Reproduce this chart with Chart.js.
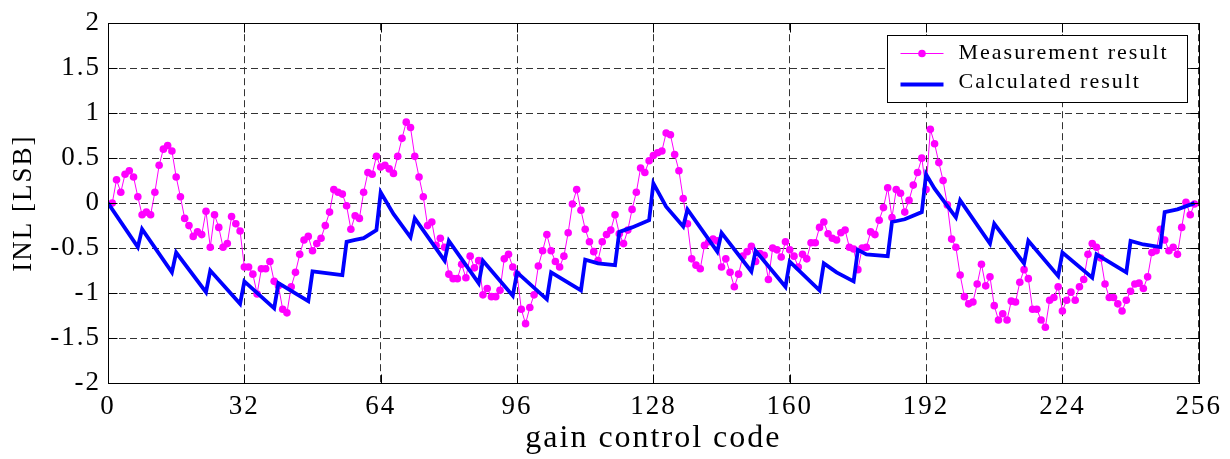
<!DOCTYPE html>
<html lang="en">
<head>
<meta charset="UTF-8" />
<title>INL vs gain control code</title>
<script src="https://cdn.jsdelivr.net/npm/chart.js"></script>
<style>
  body { margin: 0; background: #fff; }
  #wrap { width: 1230px; height: 459px; }
</style>
</head>
<body>
<div id="wrap"><canvas id="inlChart" width="1230" height="459"></canvas></div>
<script>
// measured INL (LSB), one value per code starting at code 1
const measInl = [
  0.00, 0.26, 0.12, 0.32, 0.36, 0.29, 0.07, -0.13, -0.10, -0.13,
  0.12, 0.42, 0.60, 0.64, 0.58, 0.29, 0.07, -0.17, -0.25, -0.37,
  -0.32, -0.35, -0.09, -0.49, -0.13, -0.27, -0.49, -0.45, -0.15, -0.23,
  -0.31, -0.71, -0.71, -0.79, -1.01, -0.73, -0.73, -0.65, -0.87, -0.92,
  -1.18, -1.22, -0.93, -0.77, -0.57, -0.41, -0.37, -0.53, -0.45, -0.39,
  -0.25, -0.10, 0.15, 0.12, 0.10, -0.03, -0.29, -0.14, -0.17, 0.12,
  0.34, 0.32, 0.52, 0.40, 0.42, 0.38, 0.33, 0.52, 0.72, 0.90,
  0.84, 0.52, 0.29, 0.07, -0.25, -0.21, -0.47, -0.39, -0.49, -0.79,
  -0.84, -0.84, -0.68, -0.83, -0.59, -0.72, -0.64, -1.02, -0.95, -1.04,
  -1.04, -0.97, -0.62, -0.57, -0.71, -0.79, -1.18, -1.34, -1.16, -1.02,
  -0.70, -0.53, -0.35, -0.53, -0.65, -0.71, -0.59, -0.33, -0.01, 0.15,
  -0.08, -0.29, -0.43, -0.54, -0.64, -0.43, -0.35, -0.30, -0.13, -0.34,
  -0.45, -0.30, -0.07, 0.12, 0.39, 0.34, 0.47, 0.53, 0.56, 0.58,
  0.78, 0.76, 0.54, 0.36, 0.05, -0.23, -0.62, -0.69, -0.73, -0.47,
  -0.43, -0.40, -0.42, -0.71, -0.62, -0.77, -0.93, -0.79, -0.59, -0.54,
  -0.48, -0.65, -0.56, -0.58, -0.85, -0.50, -0.52, -0.60, -0.43, -0.52,
  -0.59, -0.71, -0.57, -0.62, -0.44, -0.44, -0.27, -0.21, -0.34, -0.39,
  -0.41, -0.33, -0.30, -0.49, -0.51, -0.74, -0.50, -0.49, -0.32, -0.35,
  -0.19, -0.05, 0.17, -0.16, 0.15, 0.11, -0.10, 0.03, 0.20, 0.34,
  0.50, 0.15, 0.82, 0.66, 0.45, 0.25, -0.02, -0.40, -0.49, -0.80,
  -1.04, -1.12, -1.10, -0.90, -0.68, -0.92, -0.82, -1.14, -1.30, -1.23,
  -1.30, -1.09, -1.10, -0.88, -0.74, -0.84, -1.18, -1.18, -1.30, -1.38,
  -1.08, -1.05, -0.93, -1.20, -1.08, -0.99, -1.08, -0.93, -0.85, -0.57,
  -0.45, -0.49, -0.61, -0.90, -1.05, -1.05, -1.12, -1.20, -1.08, -0.98,
  -0.90, -0.89, -0.95, -0.82, -0.55, -0.53, -0.29, -0.41, -0.53, -0.49,
  -0.57, -0.27, 0.01, -0.13, -0.01
];
const measCodes = measInl.map((v, i) => i + 1);

// calculated INL, corner points of the sawtooth
const calcCodes = [
  0, 7, 8, 15, 16, 23, 24, 31, 32, 39, 40, 47, 48, 55, 56, 58, 60, 63,
  64, 67, 71, 72, 79, 80, 87, 88, 95, 96, 103, 104, 111, 112, 115, 119, 120, 123, 127,
  128, 131, 135, 136, 143, 144, 151, 152, 159, 160, 167, 168, 171, 175, 176, 178, 183, 184, 187, 191,
  192, 194, 199, 200, 207, 208, 215, 216, 223, 224, 231, 232, 239, 240, 243, 247, 248, 251, 255
];
const calcInl = [
  0.00, -0.49, -0.29, -0.77, -0.55, -0.99, -0.75, -1.12, -0.87, -1.17, -0.89, -1.09, -0.76, -0.80, -0.43, -0.41, -0.39, -0.30,
  0.12, -0.12, -0.38, -0.17, -0.64, -0.42, -0.89, -0.64, -1.03, -0.77, -1.07, -0.77, -0.97, -0.63, -0.67, -0.69, -0.32, -0.27, -0.19,
  0.22, -0.04, -0.26, -0.07, -0.54, -0.33, -0.76, -0.53, -0.93, -0.65, -0.97, -0.67, -0.77, -0.87, -0.52, -0.57, -0.59, -0.21, -0.18, -0.10,
  0.32, 0.16, -0.16, 0.03, -0.45, -0.23, -0.67, -0.42, -0.81, -0.55, -0.83, -0.57, -0.77, -0.42, -0.46, -0.49, -0.10, -0.07, 0.00
];

const xTicks = [0, 32, 64, 96, 128, 160, 192, 224, 256];
const yTicks = [-2, -1.5, -1, -0.5, 0, 0.5, 1, 1.5, 2];
const seriesNames = ['Measurement result', 'Calculated result'];

const serif = "'Liberation Serif', 'Times New Roman', serif";
const MAGENTA = '#ff00ff';
const BLUE = '#0000ff';

// the original text is set quite loose, canvas letterSpacing gets close to it
const spacing = {
  id: 'spacing',
  beforeUpdate(chart) { chart.ctx.letterSpacing = '2px'; },
  beforeLayout(chart) { chart.ctx.letterSpacing = '2px'; },
  beforeDraw(chart) { chart.ctx.letterSpacing = '2px'; }
};

// solid box round the plot with small inward ticks, like matlab
const frame = {
  id: 'frame',
  afterDatasetsDraw(chart) {
    const { ctx, chartArea: a, scales } = chart;
    const L = Math.round(a.left) + 0.5, R = Math.round(a.right) + 0.5;
    const T = Math.round(a.top) + 0.5, B = Math.round(a.bottom) + 0.5;
    ctx.save();
    ctx.strokeStyle = '#000';
    ctx.lineWidth = 1;
    ctx.setLineDash([]);
    ctx.strokeRect(L, T, R - L, B - T);
    ctx.beginPath();
    xTicks.forEach(v => {
      const px = Math.round(scales.x.getPixelForValue(v)) + 0.5;
      ctx.moveTo(px, B); ctx.lineTo(px, B - 9);
      ctx.moveTo(px, T); ctx.lineTo(px, T + 9);
    });
    yTicks.forEach(v => {
      const py = Math.round(scales.y.getPixelForValue(v)) + 0.5;
      ctx.moveTo(L, py); ctx.lineTo(L + 9, py);
      ctx.moveTo(R, py); ctx.lineTo(R - 9, py);
    });
    ctx.stroke();
    ctx.restore();
  }
};

// boxed legend in the top right corner of the plot
const boxLegend = {
  id: 'boxLegend',
  afterDraw(chart) {
    const { ctx, chartArea: a } = chart;
    const w = 300, h = 67;
    const x = Math.round(a.right - 12 - w) + 0.5;
    const y = Math.round(a.top + 12) + 0.5;
    ctx.save();
    ctx.setLineDash([]);
    ctx.fillStyle = '#fff';
    ctx.fillRect(x, y, w, h);
    ctx.strokeStyle = '#000';
    ctx.lineWidth = 1;
    ctx.strokeRect(x, y, w, h);

    const rows = [y + 18, y + 49];
    // measurement: thin line with a dot
    ctx.strokeStyle = MAGENTA;
    ctx.beginPath();
    ctx.moveTo(x + 13, rows[0]); ctx.lineTo(x + 56, rows[0]);
    ctx.stroke();
    ctx.fillStyle = MAGENTA;
    ctx.beginPath();
    ctx.arc(x + 34.5, rows[0], 3.8, 0, Math.PI * 2);
    ctx.fill();
    // calculated: thick blue line
    ctx.strokeStyle = BLUE;
    ctx.lineWidth = 3.8;
    ctx.beginPath();
    ctx.moveTo(x + 13, rows[1]); ctx.lineTo(x + 56, rows[1]);
    ctx.stroke();

    ctx.letterSpacing = '2px';
    ctx.font = '22px ' + serif;
    ctx.fillStyle = '#000';
    ctx.textAlign = 'left';
    ctx.textBaseline = 'middle';
    ctx.fillText(seriesNames[0], x + 71, rows[0]);
    ctx.fillText(seriesNames[1], x + 71, rows[1] - 2);
    ctx.restore();
  }
};

new Chart(document.getElementById('inlChart'), {
  type: 'line',
  data: {
    datasets: [
      {
        label: seriesNames[0],
        data: measCodes.map((c, i) => ({ x: c, y: measInl[i] })),
        borderColor: MAGENTA,
        backgroundColor: MAGENTA,
        borderWidth: 1,
        pointRadius: 3.8,
        pointBorderWidth: 0,
        pointBackgroundColor: MAGENTA,
        tension: 0,
        order: 1
      },
      {
        label: seriesNames[1],
        data: calcCodes.map((c, i) => ({ x: c, y: calcInl[i] })),
        borderColor: BLUE,
        backgroundColor: BLUE,
        borderWidth: 3.8,
        pointRadius: 0,
        tension: 0,
        order: 0
      }
    ]
  },
  options: {
    responsive: false,
    animation: false,
    devicePixelRatio: 1,
    layout: { padding: { top: 19, right: 31, left: 0, bottom: 0 } },
    plugins: {
      legend: { display: false },
      tooltip: { enabled: false }
    },
    scales: {
      x: {
        type: 'linear',
        min: 0,
        max: 256,
        afterBuildTicks: s => { s.ticks = xTicks.map(v => ({ value: v })); },
        afterFit: s => { s.height = 76; },
        grid: { color: '#333', lineWidth: 1, drawTicks: false },
        border: { display: false, dash: [7, 4] },
        ticks: {
          color: '#000',
          padding: 8,
          maxRotation: 0,
          font: { family: serif, size: 27 },
          callback: v => String(v)
        },
        title: {
          display: true,
          text: 'gain control code',
          color: '#000',
          padding: { top: 0, bottom: 1 },
          font: { family: serif, size: 32 }
        }
      },
      y: {
        type: 'linear',
        min: -2,
        max: 2,
        afterBuildTicks: s => { s.ticks = yTicks.map(v => ({ value: v })); },
        afterFit: s => { s.width = 108; },
        grid: { color: '#333', lineWidth: 1, drawTicks: false },
        border: { display: false, dash: [7, 4] },
        ticks: {
          color: '#000',
          padding: 7,
          font: { family: serif, size: 27 },
          callback: v => String(v)
        },
        title: {
          display: true,
          text: 'INL [LSB]',
          color: '#000',
          padding: { top: 8, bottom: 0 },
          font: { family: serif, size: 27 }
        }
      }
    }
  },
  plugins: [spacing, frame, boxLegend]
});
</script>
</body>
</html>
